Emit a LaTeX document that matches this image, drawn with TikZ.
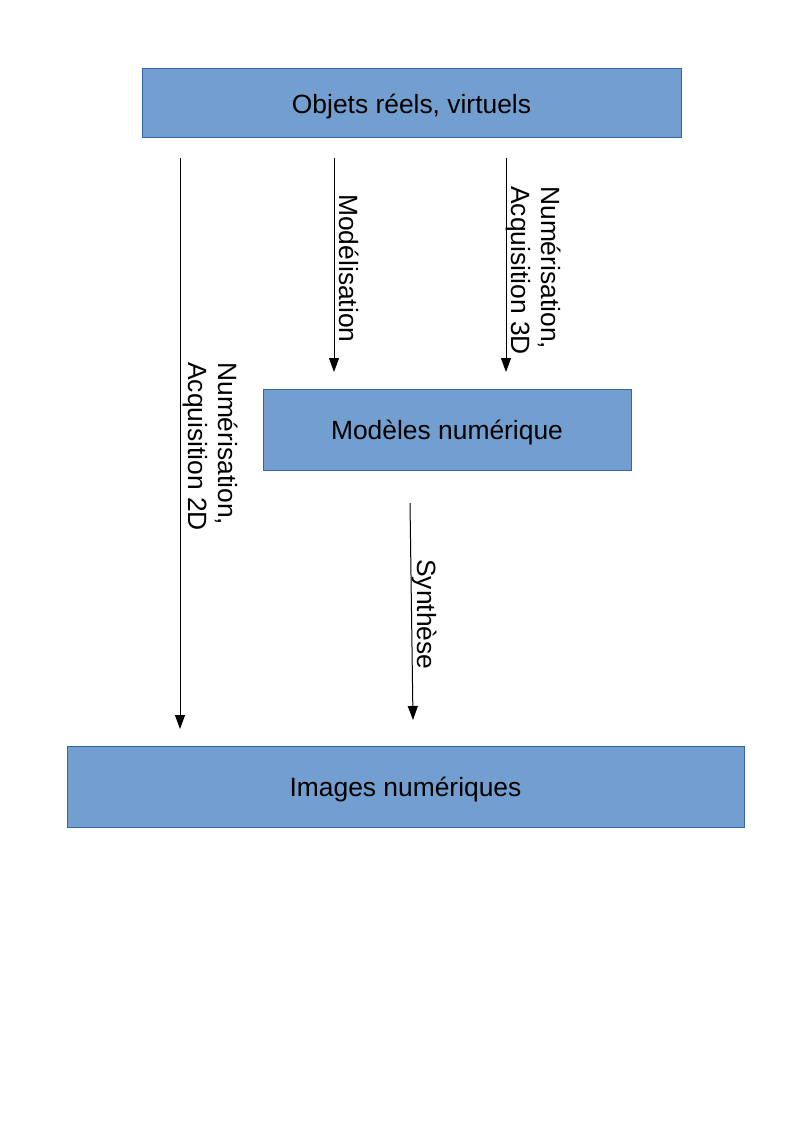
\documentclass[tikz,border=0pt]{standalone}
\usepackage{fontspec}
\setmainfont{Liberation Sans}
\usetikzlibrary{arrows.meta}
\definecolor{boxfill}{HTML}{729FCF}
\definecolor{boxline}{HTML}{3465A4}
\begin{document}
\begin{tikzpicture}[x=0.75pt,y=-0.75pt,
  every node/.style={font=\fontsize{19.8}{22.5}\selectfont, text=black},
  blockbox/.style={draw=boxline, fill=boxfill, line width=0.75pt, inner sep=0pt, text depth=0pt},
  flowarrow/.style={line width=0.75pt, -{Triangle[length=10.5pt,width=7.5pt]}},
  vlabel/.style={rotate=-90, anchor=west, inner sep=0pt, align=left}]
\useasboundingbox (0,0) rectangle (794,1123);
% boxes
\node[blockbox, minimum width=539*0.75pt, minimum height=69*0.75pt] (obj) at (411.5,103.5) {Objets réels, virtuels};
\node[blockbox, minimum width=368*0.75pt, minimum height=81*0.75pt] (mod) at (447,429.5) {Modèles numérique};
\node[blockbox, minimum width=677*0.75pt, minimum height=81*0.75pt] (img) at (405.5,786.5) {Images numériques};
% arrow endpoints
\coordinate (a1s) at (180,158); \coordinate (a1e) at (180,729);
\coordinate (a2s) at (334,158); \coordinate (a2e) at (334,372);
\coordinate (a3s) at (506,158); \coordinate (a3e) at (506,372);
\coordinate (a4s) at (410,503); \coordinate (a4e) at (413,720);
\draw[flowarrow] (a1s) -- (a1e);
\draw[flowarrow] (a2s) -- (a2e);
\draw[flowarrow] (a3s) -- (a3e);
\draw[flowarrow] (a4s) -- (a4e);
% labels
\node[vlabel] (lmod) at (349,194) {Modélisation};
\node[vlabel] (l3d) at (533,186) {Numérisation,\\Acquisition 3D};
\node[vlabel] (l2d) at (210,362) {Numérisation,\\Acquisition 2D};
\node[vlabel] (lsyn) at (424,559) {Synthèse};
\end{tikzpicture}
\end{document}
